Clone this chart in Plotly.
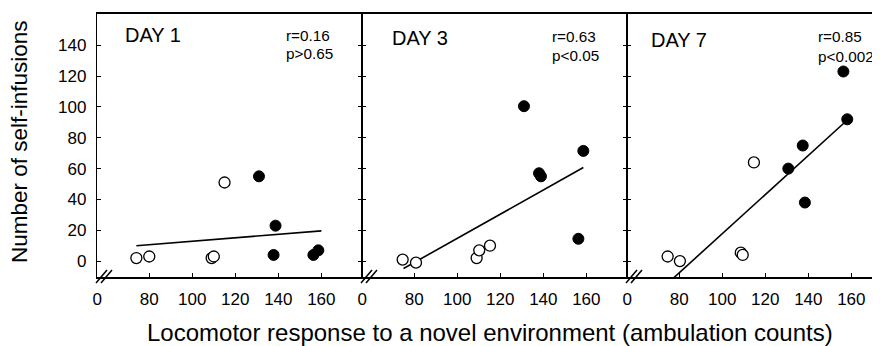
import plotly.graph_objects as go

# ---- data ----
days = ["DAY 1", "DAY 3", "DAY 7"]
stats_r = ["r=0.16", "r=0.63", "r=0.85"]
stats_p = ["p>0.65", "p<0.05", "p<0.002"]

day1_open_x = [74, 80, 109, 110, 115]
day1_open_y = [2, 3, 2, 3, 51]
day1_filled_x = [131, 138.7, 137.8, 156.3, 158.6]
day1_filled_y = [55, 23, 4, 4, 7]
day1_fit_x = [74, 160]
day1_fit_y = [10, 19.6]

day3_open_x = [74.6, 80.8, 109, 110.2, 115.2]
day3_open_y = [1, -1, 2, 7, 10]
day3_filled_x = [131, 138, 138.9, 158.6, 156.3]
day3_filled_y = [100.5, 57, 55, 71.5, 14.5]
day3_fit_x = [75, 158.6]
day3_fit_y = [-4.8, 60.7]

day7_open_x = [74.6, 80.3, 108.6, 109.5, 114.7]
day7_open_y = [3, 0, 5.5, 4, 64]
day7_filled_x = [156.3, 158.1, 137.4, 130.7, 138.4]
day7_filled_y = [123, 92, 75, 60, 38]
day7_fit_x = [76.5, 158]
day7_fit_y = [-12, 91.4]

x_tickvals = [55.75, 80, 100, 120, 140, 160]
x_ticktext = ["0", "80", "100", "120", "140", "160"]
y_tickvals = [0, 20, 40, 60, 80, 100, 120, 140]

# ---- layout geometry ----
# the page body has an 8px margin, so the figure starts at (8, 8) of the window
OFF = 8
W, H = 880 - OFF, 346 - OFF
L, T, B, R = 97 - OFF, 14 - OFF, 69, 0
PW = W - L - R
PH = H - T - B
FONT = "Liberation Sans, Arial, sans-serif"


def px(x):
    """window pixel x -> paper coordinate"""
    return (x - OFF - L) / PW


def py(y):
    """window pixel y -> paper coordinate"""
    return (H - B - (y - OFF)) / PH


panel_edges = [97, 362, 627, 880]
x_min = 55.7
x_max_full = 178.9
x_ranges = [
    [x_min, x_max_full],
    [x_min, x_max_full],
    [x_min, x_min + (x_max_full - x_min) * (880 - 627) / 265],
]

panels = [
    (day1_open_x, day1_open_y, day1_filled_x, day1_filled_y, day1_fit_x, day1_fit_y),
    (day3_open_x, day3_open_y, day3_filled_x, day3_filled_y, day3_fit_x, day3_fit_y),
    (day7_open_x, day7_open_y, day7_filled_x, day7_filled_y, day7_fit_x, day7_fit_y),
]

fig = go.Figure()
for i, (ox, oy, fx, fy, lx, ly) in enumerate(panels):
    xa = "x" if i == 0 else f"x{i+1}"
    ya = "y" if i == 0 else f"y{i+1}"
    fig.add_trace(go.Scatter(x=lx, y=ly, mode="lines", xaxis=xa, yaxis=ya,
                             line=dict(color="black", width=1.6), showlegend=False,
                             hoverinfo="skip"))
    fig.add_trace(go.Scatter(x=ox, y=oy, mode="markers", xaxis=xa, yaxis=ya,
                             marker=dict(size=11, color="white",
                                         line=dict(color="black", width=1.3)),
                             showlegend=False, cliponaxis=False))
    fig.add_trace(go.Scatter(x=fx, y=fy, mode="markers", xaxis=xa, yaxis=ya,
                             marker=dict(size=11, color="black",
                                         line=dict(color="black", width=1)),
                             showlegend=False, cliponaxis=False))

layout = dict(
    width=W, height=H,
    margin=dict(l=L, r=R, t=T, b=B, pad=0),
    paper_bgcolor="white", plot_bgcolor="white",
    font=dict(family=FONT, color="black"),
    showlegend=False,
)

for i in range(3):
    d0 = px(panel_edges[i])
    d1 = px(panel_edges[i + 1])
    xk = "xaxis" if i == 0 else f"xaxis{i+1}"
    yk = "yaxis" if i == 0 else f"yaxis{i+1}"
    ya = "y" if i == 0 else f"y{i+1}"
    xa = "x" if i == 0 else f"x{i+1}"
    layout[xk] = dict(
        domain=[max(d0, 0.0), min(d1, 1.0)], range=x_ranges[i], anchor=ya,
        tickvals=x_tickvals, ticktext=x_ticktext,
        ticks="inside", ticklen=4, tickwidth=1.3, tickcolor="black",
        showline=True, linecolor="black", linewidth=1.6, mirror=True,
        showgrid=False, zeroline=False,
        tickfont=dict(family=FONT, size=17, color="black"),
        ticklabelstandoff=6,
    )
    layout[yk] = dict(
        domain=[0, 1], range=[-10.3, 160.3], anchor=xa,
        tickvals=y_tickvals,
        showticklabels=(i == 0),
        ticks="inside", ticklen=4, tickwidth=1.3, tickcolor="black",
        showline=True, linecolor="black", linewidth=1.3,
        mirror=("ticks" if i < 2 else False),
        showgrid=False, zeroline=False,
        tickfont=dict(family=FONT, size=17, color="black"),
        ticklabelstandoff=6,
    )
fig.update_layout(**layout)

annotations = []
day_pos = [(125, 35), (392, 38), (651, 40)]
r_pos = [(286, 35, 53), (552, 36, 55), (818, 37, 57)]
common = dict(xref="paper", yref="paper", showarrow=False, borderpad=0, borderwidth=0)
for i in range(3):
    annotations.append(dict(text=days[i], x=px(day_pos[i][0]), y=py(day_pos[i][1]),
                            xanchor="left", yanchor="middle",
                            font=dict(family=FONT, size=20, color="black"), **common))
    annotations.append(dict(text=stats_r[i], x=px(r_pos[i][0]), y=py(r_pos[i][1]),
                            xanchor="left", yanchor="middle",
                            font=dict(family=FONT, size=15.3, color="black"), **common))
    annotations.append(dict(text=stats_p[i], x=px(r_pos[i][0]), y=py(r_pos[i][2]),
                            xanchor="left", yanchor="middle",
                            font=dict(family=FONT, size=15.3, color="black"), **common))

annotations.append(dict(text="Number of self-infusions", x=px(19), y=py(142),
                        xanchor="center", yanchor="middle", textangle=-90,
                        font=dict(family=FONT, size=22.5, color="black"), **common))
annotations.append(dict(text="Locomotor response to a novel environment (ambulation counts)",
                        x=px(490), y=py(332), xanchor="center", yanchor="middle",
                        font=dict(family=FONT, size=24, color="black"), **common))
fig.update_layout(annotations=annotations)

# axis-break marks "//" at the lower-left corner of each panel
shapes = []
for edge in panel_edges[:3]:
    for off in (0, 5):
        shapes.append(dict(type="line", xref="paper", yref="paper",
                           x0=px(edge - 1 + off), y0=py(283),
                           x1=px(edge + 10 + off), y1=py(270),
                           line=dict(color="black", width=1.5)))
fig.update_layout(shapes=shapes)

fig.write_html("out.html")
